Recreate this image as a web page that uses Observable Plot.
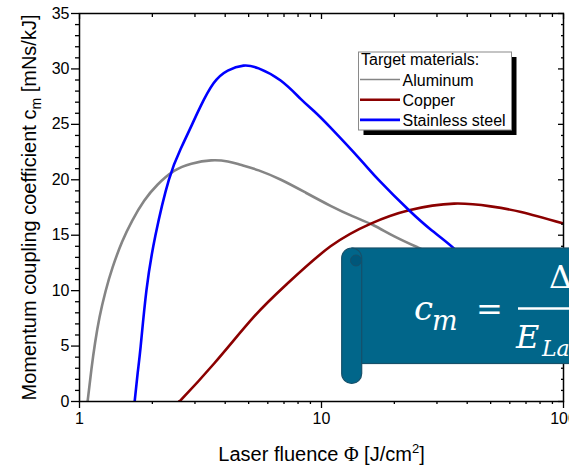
<!DOCTYPE html>
<html>
<head>
<meta charset="utf-8">
<script src="https://cdn.jsdelivr.net/npm/d3@7"></script>
<script src="https://cdn.jsdelivr.net/npm/@observablehq/plot@0.6"></script>
<style>
  html, body { margin: 0; padding: 0; background: #fff; }
  #chart svg { display: block; overflow: hidden; }
</style>
</head>
<body>
<div id="chart"></div>
<script>
// Target materials and their line colours
const materials = ["Aluminum", "Copper", "Stainless steel"];
const materialColors = ["#858585", "#8b0000", "#0000ff"];

// Momentum coupling coefficient c_m [mNs/kJ] versus laser fluence [J/cm²]
const aluminumFluence = [1.08, 1.12, 1.16, 1.21, 1.28, 1.37, 1.5, 1.65, 1.85, 2.1, 2.46, 2.9, 3.5, 4.1, 4.63, 5.5, 6.8, 8.5, 10.9, 13.5, 16.4, 20, 25, 30, 40];
const aluminumCm      = [0, 2.9, 5.3, 7.6, 9.9, 12.1, 14.4, 16.3, 18.1, 19.55, 20.8, 21.45, 21.75, 21.65, 21.35, 20.85, 20.0, 18.9, 17.65, 16.7, 15.9, 14.9, 13.9, 13.1, 11.8];

const copperFluence = [2.575, 2.62, 3.6, 5.25, 7.23, 10.9, 16, 23, 35.3, 50, 66.8, 100];
const copperCm      = [0, 0.12, 3.43, 7.63, 10.64, 14.0, 16.05, 17.25, 17.85, 17.6, 17.1, 16.05];

const steelFluence = [1.69, 1.74, 1.79, 1.89, 2.06, 2.34, 2.62, 2.92, 3.16, 3.58, 4.1, 4.76, 5.5, 6.78, 8.2, 9.3, 10.9, 14.5, 17.3, 23, 28.5, 34.9, 45];
const steelCm      = [0, 2.6, 5, 10, 15, 20, 22.8, 25.0, 26.6, 28.7, 29.85, 30.3, 30.05, 28.95, 27.3, 26.2, 24.7, 21.8, 19.95, 17.25, 15.45, 13.9, 11.6];

// Axis ticks
const xMajorTicks = [1, 10, 100];
const xMinorTicks = [2, 3, 4, 5, 6, 7, 8, 9, 20, 30, 40, 50, 60, 70, 80, 90];
const yMajorTicks = [0, 5, 10, 15, 20, 25, 30, 35];
const yMinorTicks = [1, 2, 3, 4, 6, 7, 8, 9, 11, 12, 13, 14, 16, 17, 18, 19, 21, 22, 23, 24, 26, 27, 28, 29, 31, 32, 33, 34];

const xLabel = "Laser fluence Φ [J/cm2]";
const yLabel = "Momentum coupling coefficient cm [mNs/kJ]";
const legendTitle = "Target materials:";

// Long-format table for the line mark
const series = [
  [aluminumFluence, aluminumCm],
  [copperFluence, copperCm],
  [steelFluence, steelCm]
];
const rows = materials.flatMap((m, i) =>
  series[i][0].map((f, j) => ({material: m, fluence: f, cm: series[i][1][j]}))
);

const sans = "'Liberation Sans', Arial, sans-serif";

const chart = Plot.plot({
  width: 569,
  height: 467,
  marginLeft: 79,
  marginRight: 6,
  marginTop: 13,
  marginBottom: 66,
  style: {fontFamily: sans, fontSize: "16px", color: "#000", background: "#fff", overflow: "hidden"},
  x: {type: "log", domain: [1, 100]},
  y: {domain: [0, 35]},
  color: {domain: materials, range: materialColors},
  marks: [
    Plot.line(rows, {x: "fluence", y: "cm", z: "material", stroke: "material", strokeWidth: 2.6, curve: "natural", clip: true}),
    // bottom axis (outward ticks)
    Plot.axisX({ticks: xMinorTicks, tickSize: 3, fill: "none", label: null, strokeWidth: 1.3}),
    Plot.axisX({ticks: xMajorTicks, tickSize: 7, tickPadding: 4, tickFormat: d => String(d), label: null, strokeWidth: 1.3}),
    // top mirror axis (inward ticks)
    Plot.axisX({anchor: "top", ticks: xMinorTicks, tickSize: 3, dy: 3, fill: "none", label: null, strokeWidth: 1.3}),
    Plot.axisX({anchor: "top", ticks: xMajorTicks, tickSize: 5, dy: 5, fill: "none", label: null, strokeWidth: 1.3}),
    // left axis (outward ticks)
    Plot.axisY({ticks: yMinorTicks, tickSize: 4, fill: "none", label: null, strokeWidth: 1.3}),
    Plot.axisY({ticks: yMajorTicks, tickSize: 8, tickPadding: 2, tickFormat: d => String(d), label: null, strokeWidth: 1.3}),
    // right mirror axis (inward ticks)
    Plot.axisY({anchor: "right", ticks: yMinorTicks, tickSize: 3, dx: -3, fill: "none", label: null, strokeWidth: 1.3}),
    Plot.axisY({anchor: "right", ticks: yMajorTicks, tickSize: 6, dx: -6, fill: "none", label: null, strokeWidth: 1.3}),
    Plot.frame({stroke: "#000", strokeWidth: 1.5}),
    Plot.text([xLabel], {text: d => d, frameAnchor: "bottom", textAnchor: "middle", dy: 59, fontSize: 20, className: "xlab"}),
    Plot.text([yLabel], {text: d => d, frameAnchor: "left", textAnchor: "middle", rotate: -90, dx: -50, fontSize: 20, className: "ylab"})
  ]
});

document.getElementById("chart").appendChild(chart);
const svg = d3.select(chart);

// Axis titles with sub/superscripts
const xt = svg.select(".xlab text");
xt.text(null);
xt.append("tspan").text("Laser fluence ");
xt.append("tspan").attr("font-family", "'Liberation Serif', serif").text("Φ");
xt.append("tspan").text(" [J/cm");
xt.append("tspan").attr("font-size", 13).attr("dy", -8).text("2");
xt.append("tspan").attr("dy", 8).text("]");

const yt = svg.select(".ylab text");
yt.text(null);
yt.append("tspan").text("Momentum coupling coefficient c");
yt.append("tspan").attr("font-size", 14).attr("dy", 5).text("m");
yt.append("tspan").attr("dy", -5).text(" [mNs/kJ]");

// Legend box with drop shadow
const lg = svg.append("g").attr("font-family", sans).attr("font-size", 16).attr("text-anchor", "start");
const box = {x: 358.5, y: 52, w: 153, h: 78};
lg.append("rect").attr("x", box.x + 5).attr("y", box.y + 5).attr("width", box.w).attr("height", box.h).attr("fill", "#000");
lg.append("rect").attr("x", box.x).attr("y", box.y).attr("width", box.w).attr("height", box.h)
  .attr("fill", "#fff").attr("stroke", "#8a8a8a").attr("stroke-width", 1);
lg.append("text").attr("x", 361).attr("y", 65).text(legendTitle);
materials.forEach((m, i) => {
  const cy = 79.5 + i * 20.2;
  lg.append("line").attr("x1", 360).attr("x2", 400).attr("y1", cy).attr("y2", cy)
    .attr("stroke", materialColors[i]).attr("stroke-width", i === 0 ? 1.6 : 2.6);
  lg.append("text").attr("x", 402.5).attr("y", cy + 6).text(m);
});

// Scroll banner with the definition of the coupling coefficient
const bn = svg.append("g");
const fillC = "#01668a", edgeC = "#16506a", darkC = "#00577a";
bn.append("rect").attr("x", 352).attr("y", 248).attr("width", 260).attr("height", 115.5)
  .attr("fill", fillC).attr("stroke", edgeC).attr("stroke-width", 1.2);
bn.append("rect").attr("x", 341.7).attr("y", 248).attr("width", 20).attr("height", 135.5).attr("rx", 10)
  .attr("fill", fillC).attr("stroke", edgeC).attr("stroke-width", 1.2);
bn.append("circle").attr("cx", 356).attr("cy", 260.5).attr("r", 5.5)
  .attr("fill", darkC).attr("stroke", edgeC).attr("stroke-width", 1);

const ser = "'DejaVu Serif', serif";
const eq = bn.append("g").attr("fill", "#fff").attr("font-family", ser).attr("text-anchor", "start");
eq.append("text").attr("x", 414).attr("y", 320).attr("font-size", 34).attr("font-style", "italic").text("c");
eq.append("text").attr("x", 432).attr("y", 330).attr("font-size", 27).attr("font-style", "italic").text("m");
eq.append("text").attr("x", 489.5).attr("y", 320).attr("font-size", 32).attr("text-anchor", "middle").text("=");
eq.append("line").attr("x1", 518).attr("x2", 600).attr("y1", 308.5).attr("y2", 308.5).attr("stroke", "#fff").attr("stroke-width", 2.3);
eq.append("text").attr("x", 549).attr("y", 288).attr("font-size", 32).text("Δp");
eq.append("text").attr("x", 516).attr("y", 348).attr("font-size", 32).attr("font-style", "italic").text("E");
eq.append("text").attr("x", 542).attr("y", 356).attr("font-size", 22).attr("font-style", "italic").text("Laser");
</script>
</body>
</html>
